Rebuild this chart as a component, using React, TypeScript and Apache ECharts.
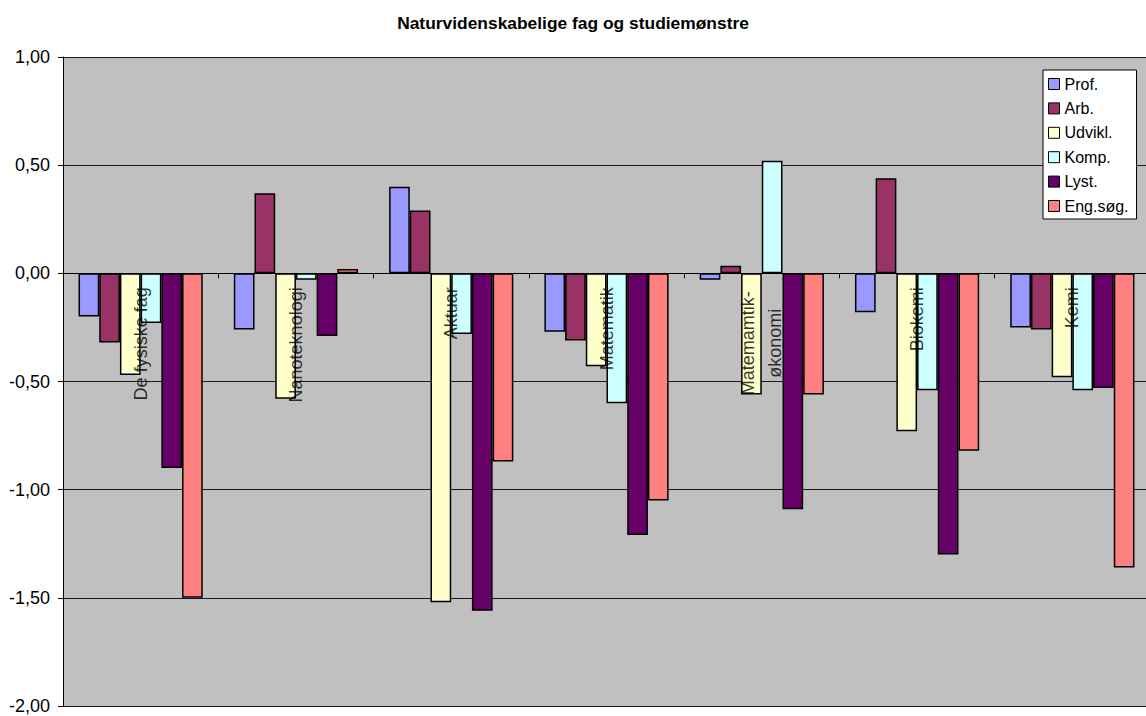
import React, { useEffect, useRef } from "react";
import * as echarts from "echarts";

// Study programmes (x categories)
const categories = [
  "De fysiske fag",
  "Nanoteknologi",
  "Aktuar",
  "Matematik",
  "Matemamtik-\nøkonomi",
  "Biokemi",
  "Kemi",
];

// Series values per programme
const prof = [-0.2, -0.26, 0.4, -0.27, -0.03, -0.18, -0.25];
const arb = [-0.32, 0.37, 0.29, -0.31, 0.035, 0.44, -0.26];
const udvikl = [-0.47, -0.58, -1.52, -0.43, -0.56, -0.73, -0.48];
const komp = [-0.23, -0.03, -0.28, -0.6, 0.52, -0.54, -0.54];
const lyst = [-0.9, -0.29, -1.56, -1.21, -1.09, -1.3, -0.53];
const engSog = [-1.5, 0.02, -0.87, -1.05, -0.56, -0.82, -1.36];

const seriesNames = ["Prof.", "Arb.", "Udvikl.", "Komp.", "Lyst.", "Eng.søg."];
const seriesData = [prof, arb, udvikl, komp, lyst, engSog];
const seriesColors = ["#9999FF", "#993366", "#FFFFCC", "#CCFFFF", "#660066", "#FF8080"];

const FONT = 'Arial, "Liberation Sans", sans-serif';

export default function App() {
  const ref = useRef<HTMLDivElement>(null);

  useEffect(() => {
    if (!ref.current) return;
    const chart = echarts.init(ref.current, undefined, { renderer: "svg" });

    const bars = seriesNames.map((name, i) => ({
      name,
      type: "bar",
      data: seriesData[i],
      barGap: "0%",
      barCategoryGap: "20%",
      z: 2,
      itemStyle: { color: seriesColors[i], borderColor: "#000", borderWidth: 1.5 },
    }));

    // Category names written vertically just below the zero line, on top of the bars.
    // Two-line names are centred as a block so both lines sit on the same middle.
    const categoryLabels = {
      name: "categoryLabels",
      type: "scatter",
      data: categories.map((c, i) =>
        c.includes("\n")
          ? { value: [i, 0, c], label: { align: "center", position: [0, 70] } }
          : { value: [i, 0, c] }
      ),
      symbolSize: 0,
      silent: true,
      z: 10,
      label: {
        show: true,
        position: [0, 14],
        rotate: 90,
        align: "right",
        verticalAlign: "middle",
        fontFamily: FONT,
        fontSize: 18,
        lineHeight: 27,
        color: "#000",
        formatter: (p: any) => p.value[2],
      },
    };

    chart.setOption({
      animation: false,
      backgroundColor: "#FFFFFF",
      title: {
        text: "Naturvidenskabelige fag og studiemønstre",
        left: "center",
        top: 9,
        textStyle: { fontFamily: FONT, fontSize: 17.4, fontWeight: "bold", color: "#000" },
      },
      legend: {
        orient: "vertical",
        left: 1043,
        top: 70,
        padding: [6, 8, 5, 5],
        backgroundColor: "#FFFFFF",
        borderColor: "#000",
        borderWidth: 1,
        borderRadius: 0,
        icon: "rect",
        itemWidth: 11,
        itemHeight: 11,
        itemGap: 8.4,
        itemStyle: { borderColor: "#000", borderWidth: 1 },
        textStyle: { fontFamily: FONT, fontSize: 16, lineHeight: 16, color: "#000" },
        data: seriesNames,
      },
      grid: {
        left: 63,
        top: 57,
        bottom: 10,
        right: -4,
        show: true,
        backgroundColor: "#C0C0C0",
        borderWidth: 0,
        containLabel: false,
        outerBoundsMode: "none",
      },
      xAxis: {
        type: "category",
        data: categories,
        z: 3,
        axisLine: { onZero: true, lineStyle: { color: "#000", width: 1 } },
        axisTick: { show: true, length: 5, alignWithLabel: false, lineStyle: { color: "#000" } },
        axisLabel: { show: false },
        splitLine: { show: false },
      },
      yAxis: {
        type: "value",
        min: -2,
        max: 1,
        interval: 0.5,
        axisLine: { show: true, lineStyle: { color: "#000", width: 1 } },
        axisTick: { show: true, length: 5, lineStyle: { color: "#000" } },
        axisLabel: {
          margin: 13,
          fontFamily: FONT,
          fontSize: 18,
          color: "#000",
          formatter: (v: number) => v.toFixed(2).replace(".", ","),
        },
        splitLine: { show: true, lineStyle: { color: "#1a1a1a", width: 1 } },
      },
      series: [...bars, categoryLabels],
    });
    return () => chart.dispose();
  }, []);

  return (
    <div
      ref={ref}
      style={{ position: "absolute", left: 0, top: 0, width: 1146, height: 716, background: "#fff" }}
    />
  );
}
